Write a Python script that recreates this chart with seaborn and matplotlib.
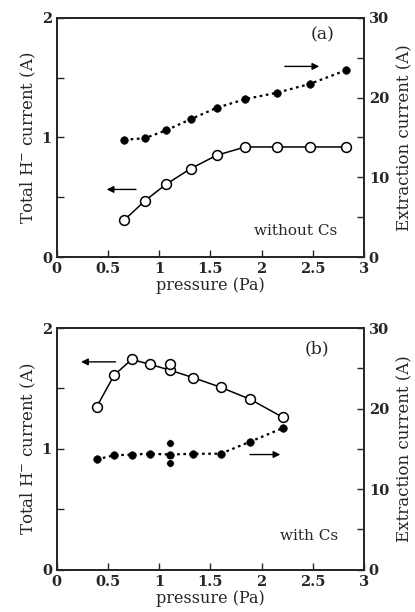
import matplotlib
matplotlib.use("Agg")
import matplotlib.pyplot as plt
import seaborn as sns
import pandas as pd
from matplotlib.ticker import MultipleLocator

# panel (a) without Cs
p_a = [0.66, 0.86, 1.07, 1.31, 1.56, 1.84, 2.15, 2.47, 2.82]
h_a = [0.31, 0.47, 0.61, 0.74, 0.85, 0.92, 0.92, 0.92, 0.92]
ext_a = [14.7, 14.9, 15.9, 17.3, 18.7, 19.8, 20.6, 21.7, 23.4]

# panel (b) with Cs
p_b = [0.39, 0.56, 0.73, 0.91, 1.11, 1.33, 1.60, 1.89, 2.21]
h_b = [1.35, 1.61, 1.74, 1.70, 1.65, 1.59, 1.51, 1.41, 1.26]
ext_b = [13.7, 14.2, 14.3, 14.4, 14.3, 14.4, 14.4, 15.9, 17.6]
# repeated measurements at 1.1 Pa
p_b_extra = [1.11]
h_b_extra = [1.70]
p_b_extra_ext = [1.11, 1.11]
ext_b_extra = [15.7, 13.2]

sns.set_style("ticks")
plt.rcParams['font.family'] = ['DejaVu Serif']
plt.rcParams['mathtext.fontset'] = 'dejavuserif'
plt.rcParams['font.size'] = 10

fig = plt.figure(figsize=(4.15, 6.12), dpi=100)
ax_a = fig.add_axes([0.137, 0.580, 0.740, 0.391])
ax_b = fig.add_axes([0.137, 0.069, 0.740, 0.395])


def draw_panel(ax, p, h, ext, ph_x, ph_y, pe_x, pe_y, tag, note, larr, rarr):
    df = pd.DataFrame({'p': p, 'h': h, 'ext': ext})
    ax2 = ax.twinx()
    sns.lineplot(x='p', y='h', data=df, ax=ax, color='black', lw=1.1, sort=False)
    sns.lineplot(x='p', y='ext', data=df, ax=ax2, color='black', lw=1.6,
                 linestyle=(0, (1.2, 1.6)), sort=False)
    sns.scatterplot(x='p', y='h', data=df, ax=ax, s=50, facecolor='white',
                    edgecolor='black', linewidth=1.1, zorder=5)
    sns.scatterplot(x='p', y='ext', data=df, ax=ax2, s=30, color='black',
                    edgecolor='black', zorder=5)
    if ph_x:
        sns.scatterplot(x=ph_x, y=ph_y, ax=ax, s=50, facecolor='white',
                        edgecolor='black', linewidth=1.1, zorder=5)
    if pe_x:
        sns.scatterplot(x=pe_x, y=pe_y, ax=ax2, s=30, color='black', zorder=5)

    ax.set_xlim(0, 3)
    ax.set_ylim(0, 2)
    ax2.set_ylim(0, 30)
    ax.yaxis.set_major_locator(MultipleLocator(1))
    ax.yaxis.set_minor_locator(MultipleLocator(0.5))
    ax2.yaxis.set_major_locator(MultipleLocator(10))
    ax2.yaxis.set_minor_locator(MultipleLocator(5))
    ax.set_xticks([0, 0.5, 1, 1.5, 2, 2.5, 3])
    ax.set_xticklabels(['0', '0.5', '1', '1.5', '2', '2.5', '3'])
    for a in (ax, ax2):
        a.tick_params(which='both', direction='in', labelsize=10.5)
        a.tick_params(which='major', length=5, width=1)
        a.tick_params(which='minor', length=5, width=1)
        for lab in a.get_xticklabels() + a.get_yticklabels():
            lab.set_fontweight('bold')
        for s in a.spines.values():
            s.set_linewidth(1.3)
    ax.set_xlabel('pressure (Pa)', fontsize=11.5, labelpad=1)
    ax.set_ylabel('Total H$^{-}$ current (A)', fontsize=12, labelpad=3)
    ax2.set_ylabel('Extraction current (A)', fontsize=12, labelpad=5)

    ax.text(tag[0], tag[1], tag[2], fontsize=12.5, ha='center', va='center')
    ax.text(note[0], note[1], note[2], fontsize=11, ha='center', va='center')
    ax.annotate('', xy=(larr[1], larr[2]), xytext=(larr[0], larr[2]),
                arrowprops=dict(arrowstyle='-|>', color='black', lw=1.0,
                                mutation_scale=10))
    ax2.annotate('', xy=(rarr[1], rarr[2]), xytext=(rarr[0], rarr[2]),
                 arrowprops=dict(arrowstyle='-|>', color='black', lw=1.0,
                                 mutation_scale=10))


draw_panel(ax_a, p_a, h_a, ext_a, None, None, None, None,
           (2.6, 1.86, '(a)'), (2.33, 0.22, 'without Cs'),
           (0.80, 0.46, 0.565), (2.20, 2.59, 23.9))
draw_panel(ax_b, p_b, h_b, ext_b, p_b_extra, h_b_extra, p_b_extra_ext, ext_b_extra,
           (2.54, 1.83, '(b)'), (2.46, 0.28, 'with Cs'),
           (0.60, 0.21, 1.72), (1.86, 2.21, 14.3))

plt.savefig('out.png', dpi=100)
